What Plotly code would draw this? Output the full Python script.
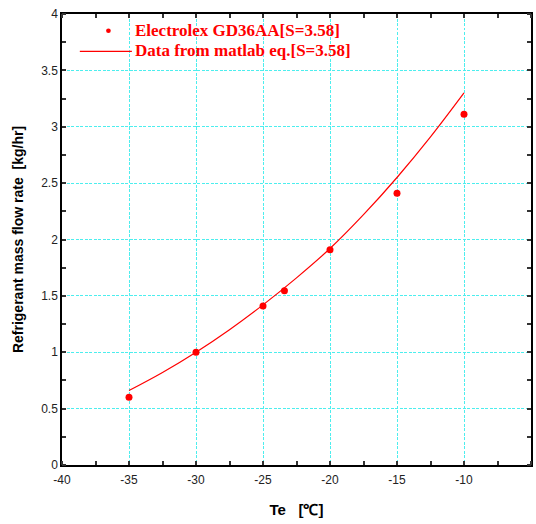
import plotly.graph_objects as go

# Measured mass flow rate, Electrolex GD36AA (S = 3.58)
te_meas = [-35, -30, -25, -23.4, -20, -15, -10]
mflow_meas = [0.60, 1.00, 1.41, 1.545, 1.91, 2.41, 3.11]

# Values computed from the matlab equation (S = 3.58)
te_calc = [-35, -32.5, -30, -27.5, -25, -22.5, -20, -17.5, -15, -12.5, -10]
mflow_calc = [0.66, 0.82, 1.00, 1.20, 1.42, 1.66, 1.92, 2.22, 2.55, 2.91, 3.30]

# Axis ticks (plain hyphen minus signs)
x_ticks = [-40, -35, -30, -25, -20, -15, -10, -5]
x_ticktext = ["-40", "-35", "-30", "-25", "-20", "-15", "-10", "-5"]
y_ticks = [0, 0.5, 1, 1.5, 2, 2.5, 3, 3.5, 4]
y_ticktext = ["0", "0.5", "1", "1.5", "2", "2.5", "3", "3.5", "4"]

label_meas = "Electrolex GD36AA[S=3.58]"
label_calc = "Data from matlab eq.[S=3.58]"

RED = "#ff0000"
GRID = "#4deeee"

fig = go.Figure()
fig.add_trace(go.Scatter(x=te_calc, y=mflow_calc, mode="lines",
                         line=dict(color=RED, width=1.2, shape="spline"),
                         name=label_calc, showlegend=False))
fig.add_trace(go.Scatter(x=te_meas, y=mflow_meas, mode="markers",
                         marker=dict(color=RED, size=7),
                         name=label_meas, showlegend=False))

axis_common = dict(showline=True, linecolor="black", linewidth=1.5, mirror="ticks",
                   ticks="", showgrid=True, gridcolor=GRID, griddash="3px,1.5px", gridwidth=1,
                   zeroline=False, automargin=False,
                   tickfont=dict(family="Arial, Liberation Sans", size=12, color="#222"))

fig.update_xaxes(range=[-40, -5], tickvals=x_ticks, ticktext=x_ticktext, ticklabelstandoff=3,
                 minor=dict(dtick=2.5, tick0=-37.5, ticks="inside", ticklen=4, tickwidth=1.5,
                            tickcolor="#333", showgrid=False),
                 title=dict(text="<b>Te   [℃]</b>", font=dict(family="Arial, Liberation Sans", size=15, color="black"), standoff=18),
                 **axis_common)
fig.update_yaxes(range=[0, 4], tickvals=y_ticks, ticktext=y_ticktext,
                 minor=dict(dtick=0.25, tick0=0.25, ticks="inside", ticklen=4, tickwidth=1.5,
                            tickcolor="#333", showgrid=False),
                 title=dict(text="<b>Refrigerant mass flow rate  [kg/hr]</b>", font=dict(family="Arial, Liberation Sans", size=14, color="black"), standoff=14),
                 **axis_common)

# Legend drawn inside the plot frame
legend_font = dict(family="Liberation Serif, Times New Roman, serif", size=17, color=RED)
fig.add_shape(type="circle", xref="paper", yref="paper",
              x0=0.094, x1=0.104, y0=0.958, y1=0.968, fillcolor=RED, line=dict(width=0))
fig.add_shape(type="line", xref="paper", yref="paper",
              x0=0.038, x1=0.149, y0=0.917, y1=0.917, line=dict(color=RED, width=1.2))
fig.add_annotation(text="<b>" + label_meas + "</b>", xref="paper", yref="paper",
                   x=0.151, y=0.963, xanchor="left", yanchor="middle", showarrow=False, font=legend_font)
fig.add_annotation(text="<b>" + label_calc + "</b>", xref="paper", yref="paper",
                   x=0.151, y=0.918, xanchor="left", yanchor="middle", showarrow=False, font=legend_font)

fig.update_layout(width=536, height=524, margin=dict(l=62, r=5, t=14, b=59),
                  plot_bgcolor="white", paper_bgcolor="white", showlegend=False)

fig.write_html("out.html")
